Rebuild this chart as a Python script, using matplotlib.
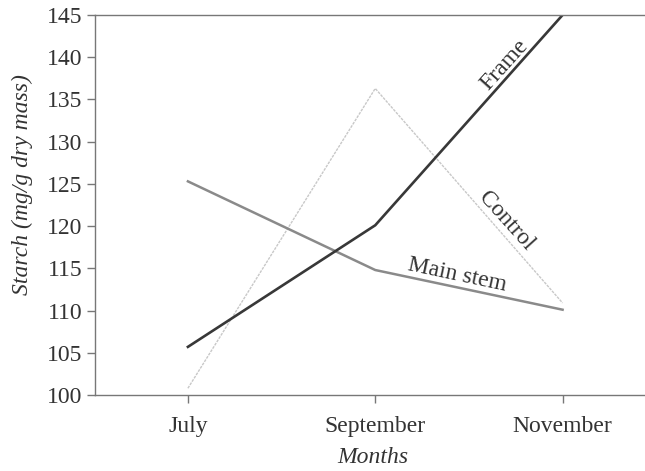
import matplotlib
matplotlib.use("Agg")
import matplotlib.pyplot as plt

months = ["July", "September", "November"]
frame = [105.7, 120.1, 145.0]
main_stem = [125.3, 114.8, 110.1]
control = [100.8, 136.3, 110.9]
yticks = [100, 105, 110, 115, 120, 125, 130, 135, 140, 145]

plt.rcParams['font.family'] = ['Liberation Serif', 'DejaVu Serif']

fig = plt.figure(figsize=(6.45, 4.71), dpi=100)
ax = fig.add_axes([95/645, 1-395/471, 1-95/645, (395-15)/471])

x = list(range(len(months)))
ax.plot(x, control, color='#c8c8c8', lw=1.0, ls=(0, (2, 0.8)), solid_capstyle='butt')
ax.plot(x, main_stem, color='#8a8a8a', lw=1.8)
ax.plot(x, frame, color='#383838', lw=1.9)

ax.set_xlim(-0.496, 2.44)
ax.set_ylim(100, 145)
ax.set_xticks(x)
ax.set_xticklabels(months)
ax.set_yticks(yticks)

for s in ['left', 'bottom', 'top']:
    ax.spines[s].set_color('#777777')
    ax.spines[s].set_linewidth(1.0)
ax.spines['right'].set_visible(False)
ax.tick_params(axis='both', colors='#777777', labelcolor='#333333', labelsize=17, length=6, width=1.0)
ax.tick_params(axis='x', pad=9)
ax.tick_params(axis='y', pad=3)

ax.set_ylabel("Starch (mg/g dry mass)", fontsize=17, style='italic', color='#333333')
ax.yaxis.set_label_coords(-0.112, 0.555)
ax.set_xlabel("Months", fontsize=17, style='italic', color='#333333')
ax.xaxis.set_label_coords(0.506, -0.137)

ax.text(1.69, 139.1, "Frame", rotation=48, fontsize=17, color='#333333',
        ha='center', va='center', rotation_mode='anchor')
ax.text(1.70, 120.6, "Control", rotation=-48, fontsize=17, color='#333333',
        ha='center', va='center', rotation_mode='anchor')
ax.text(1.435, 114.2, "Main stem", rotation=-12, fontsize=17, color='#333333',
        ha='center', va='center', rotation_mode='anchor')

fig.savefig("out.png", dpi=100)
